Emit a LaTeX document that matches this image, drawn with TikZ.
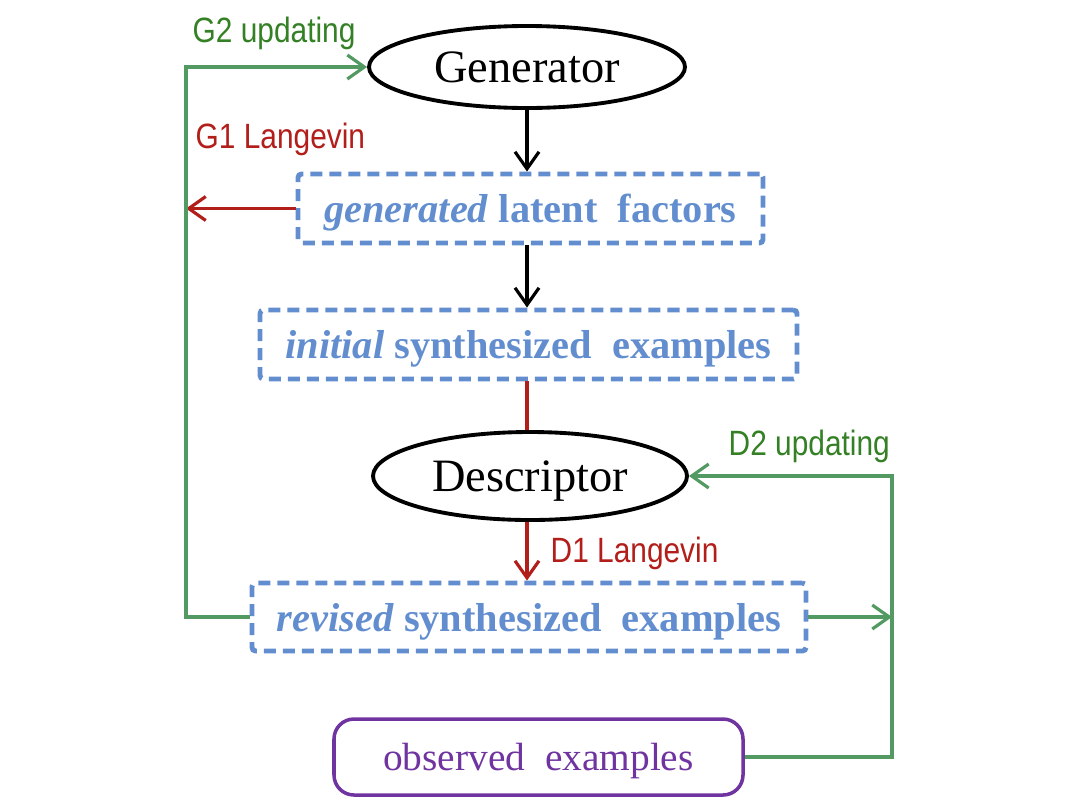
\documentclass[tikz,border=0pt]{standalone}
\usepackage{fontspec}
\setmainfont{Liberation Serif}
\newfontfamily\labelfont[FakeStretch=0.85]{Liberation Sans}
\usepackage{xcolor}
\usetikzlibrary{arrows.meta,shapes,positioning,calc}

\definecolor{boxblue}{RGB}{98,142,207}
\definecolor{linegreen}{RGB}{82,154,98}
\definecolor{textgreen}{RGB}{52,128,36}
\definecolor{flowred}{RGB}{178,30,26}
\definecolor{obspurple}{RGB}{112,52,160}

\begin{document}
\begin{tikzpicture}[
  >={Straight Barb[length=1.7mm,width=2.4mm]},
  model/.style={draw, ellipse, line width=1.1pt, inner sep=0pt, text depth=0pt, font=\fontsize{13.2}{15}\selectfont},
  samplebox/.style={draw=boxblue, line width=1.4pt, dash pattern=on 1.2mm off 0.7mm, rounded corners=1pt, text=boxblue, inner sep=0pt, text depth=0pt, font=\fontsize{11.5}{14}\selectfont\bfseries},
  databox/.style={draw=obspurple, line width=1pt, rounded corners=2mm, text=obspurple, inner sep=0pt, text depth=0pt, font=\fontsize{11.2}{14}\selectfont},
  gflow/.style={draw=linegreen, line width=0.9pt},
  rflow/.style={draw=flowred, line width=0.9pt},
  bflow/.style={draw=black, line width=0.9pt},
  glabel/.style={text=textgreen, anchor=base west, inner sep=0pt, font=\labelfont\fontsize{10}{12}\selectfont},
  rlabel/.style={glabel, text=flowred}
]
\useasboundingbox (0,0) rectangle (10.86,-8.08);

% Models
\node[model, minimum width=3.16cm, minimum height=0.82cm] (gen) at (5.27,-0.67) {Generator};
\node[model, minimum width=3.14cm, minimum height=0.88cm] (desc) at (5.30,-4.76) {Descriptor};

% Factors and examples
\node[samplebox, minimum width=4.65cm, minimum height=0.69cm] (latent) at (5.305,-2.085) {\textit{generated} latent\ \ factors};
\node[samplebox, minimum width=5.37cm, minimum height=0.69cm] (init) at (5.285,-3.445) {\textit{initial} synthesized\ \ examples};
\node[samplebox, minimum width=5.54cm, minimum height=0.68cm] (revised) at (5.29,-6.17) {\textit{revised} synthesized\ \ examples};
\node[databox, minimum width=4.09cm, minimum height=0.76cm] (observed) at (5.385,-7.57) {observed\ \ examples};

% Corners of the loops
\coordinate (gcorner) at (1.86,-0.67);
\coordinate (dcorner) at (8.92,-4.76);

% Flows
\draw[bflow, ->] (gen.south) -- (gen.south |- latent.north);
\draw[bflow, ->] (latent.south -| gen.south) -- (gen.south |- init.north);
\draw[rflow] (init.south -| gen.south) -- (gen.south |- desc.north);
\draw[rflow, ->] (desc.south -| gen.south) -- (gen.south |- revised.north);
\draw[rflow, ->] (latent.west) -- (latent.west -| gcorner);
\draw[gflow, ->] (revised.west) -| (gcorner) -- (gen.west);
\draw[gflow, ->] (revised.east) -- (revised.east -| dcorner);
\draw[gflow, ->] (observed.east) -| (dcorner) -- (desc.east);

% Labels
\node[glabel] (g2lab) at (1.92,-0.42) {G2 updating};
\node[rlabel] (g1lab) at (1.95,-1.48) {G1 Langevin};
\node[rlabel] (d1lab) at (5.50,-5.62) {D1 Langevin};
\node[glabel] (d2lab) at (7.28,-4.55) {D2 updating};

\end{tikzpicture}
\end{document}
